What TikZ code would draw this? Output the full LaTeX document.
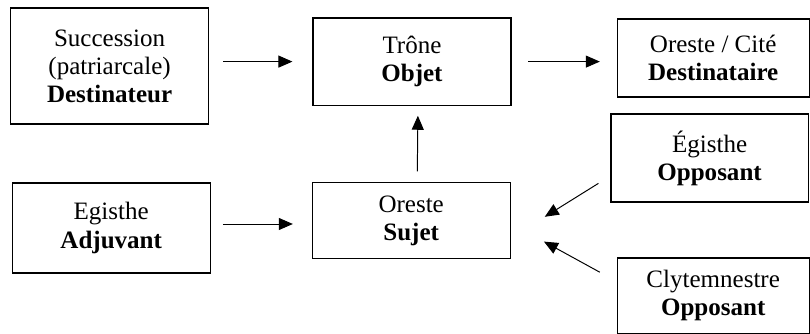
\documentclass[tikz,border=0pt]{standalone}
\usepackage{fontspec}
\setmainfont{Liberation Serif}
\usetikzlibrary{arrows.meta,calc}

\begin{document}
\begin{tikzpicture}[
  every node/.style={draw, line width=0.8pt, align=center, inner sep=0pt, font=\fontsize{17.8}{20}\selectfont},
  actant/.style={minimum width=4.95cm},
  arr/.style={line width=0.7pt, -{Triangle[length=0.35cm, width=0.3cm]}},
  >=Stealth
]
\useasboundingbox (0,0) rectangle (20.25,-8.35);

\node[actant, minimum height=2.9cm]  (dest)  at (2.74,-1.65)  {Succession\\(patriarcale)\\\textbf{Destinateur}};
\node[actant, minimum height=2.18cm] (obj)   at (10.3,-1.54)  {Trône\\\textbf{Objet}};
\node[minimum width=4.8cm, minimum height=1.95cm] (desti) at (17.83,-1.45) {Oreste / Cité\\\textbf{Destinataire}};
\node[minimum width=4.93cm, minimum height=2.2cm] (opp1) at (17.74,-3.95) {Égisthe\\\textbf{Opposant}};
\node[actant, minimum height=2.25cm] (adj)   at (2.78,-5.7)   {Egisthe\\\textbf{Adjuvant}};
\node[actant, minimum height=1.9cm]  (suj)   at (10.28,-5.52) {Oreste\\\textbf{Sujet}};
\node[minimum width=4.8cm, minimum height=1.88cm] (opp2) at (17.83,-7.39) {Clytemnestre\\\textbf{Opposant}};

\draw[arr, shorten <=0.35cm, shorten >=0.5cm] (dest.east |- obj.west) -- (obj.west);
\draw[arr, shorten <=0.42cm, shorten >=0.42cm] (obj.east) -- (obj.east -| desti.west);
\draw[arr, shorten <=0.3cm, shorten >=0.47cm] ([yshift=-0.08cm]adj.east |- suj.west) -- ([yshift=-0.08cm]suj.west);
\draw[arr, shorten <=0.27cm, shorten >=0.25cm] ([xshift=0.15cm]suj.north) -- ([xshift=0.15cm]obj.south);
\draw[arr] ($(opp1.south west)+(-0.3,0.48)$) -- ($(suj.east)+(0.85,0.1)$);
\draw[arr] ($(opp2.north west)+(-0.42,-0.37)$) -- ($(suj.east)+(0.83,-0.52)$);
\end{tikzpicture}
\end{document}
